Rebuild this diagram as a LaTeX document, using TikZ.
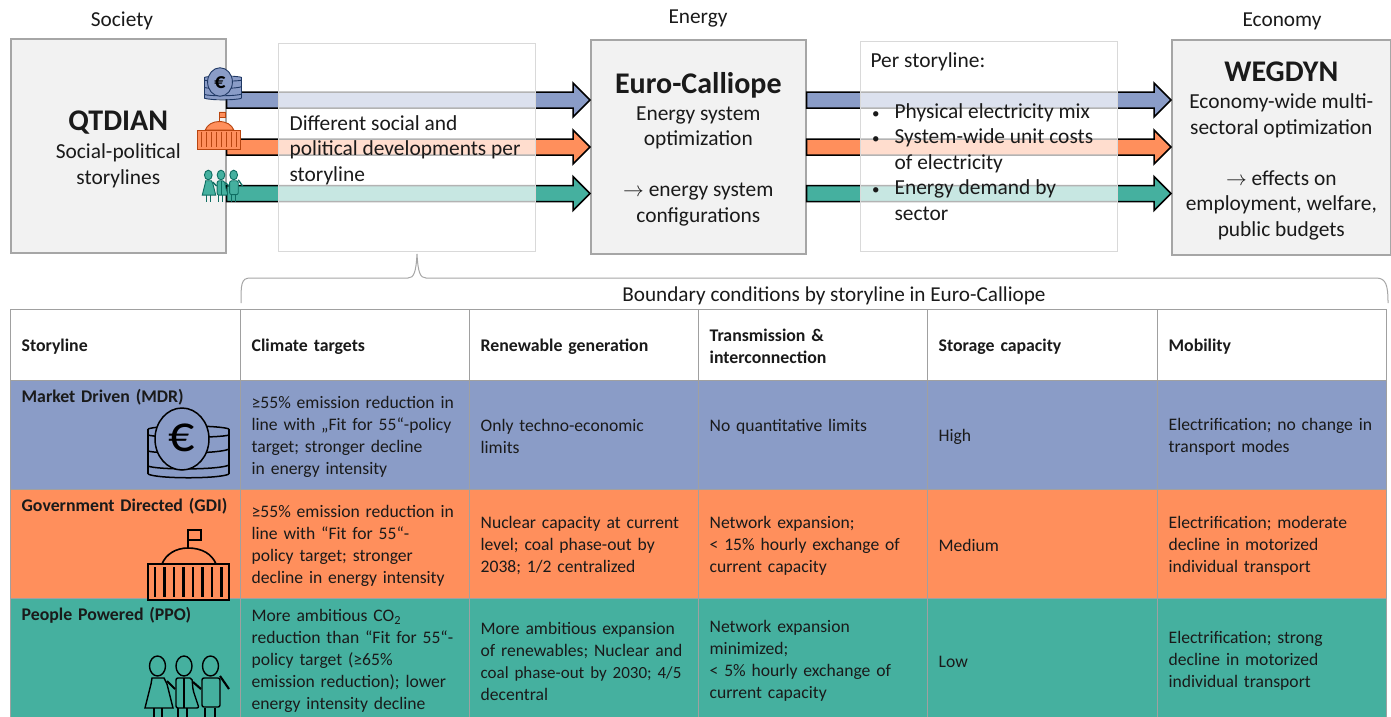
\documentclass[tikz,border=0pt]{standalone}
\usepackage{fontspec}
\setmainfont{Carlito}
\usetikzlibrary{calc}
\definecolor{cblue}{HTML}{8A9CC7}
\definecolor{corange}{HTML}{FF8F5C}
\definecolor{cgreen}{HTML}{45B09F}
\definecolor{boxfill}{HTML}{F2F2F2}
\definecolor{boxline}{HTML}{A6A6A6}
\definecolor{paleline}{HTML}{D9D9D9}
\definecolor{gridline}{HTML}{A0A0A0}
\definecolor{txt}{HTML}{1A1A1A}
\definecolor{navy}{HTML}{1F3864}
\definecolor{brick}{HTML}{B8450F}
\definecolor{teal}{HTML}{0E6E62}
\newcommand{\fs}[2]{\fontsize{#1pt}{#2pt}\selectfont}
\newcommand{\bul}{\leavevmode\llap{{\fs{15}{25.5}\textbullet}\hspace{15pt}}}
\newcommand{\fatarrow}[3]{\draw[arrowline,fill=#3] let \p1=(#1),\p2=(#2) in
 (\x1,\y1+8pt) -- (\x2-17pt,\y1+8pt) -- (\x2-17pt,\y1+17pt) -- (\x2,\y1) -- (\x2-17pt,\y1-17pt) -- (\x2-17pt,\y1-8pt) -- (\x1,\y1-8pt) -- cycle;}
\newcommand{\coinicon}[5]{\begin{scope}[shift={#1},scale=#2,line width=#5,draw=#4]
 \fill[#3] (-34,-10) rectangle (47,37);
 \draw (-34,-10) .. controls (-25,-14) and (38,-14) .. (47,-10);
 \draw (-34,-10) -- (-34,35) (47,-10) -- (47,35);
 \draw (-34,-4) .. controls (-25,-1) and (38,-1) .. (47,-4);
 \draw (-34,12) .. controls (-25,15) and (38,15) .. (47,10);
 \draw (-34,27) .. controls (-25,31) and (38,31) .. (47,26);
 \draw (-34,35) .. controls (-25,40) and (38,40) .. (47,35);
 \filldraw[fill=#3] (0,0) circle [x radius=27,y radius=31];
 \end{scope}}
\newcommand{\govicon}[5]{\begin{scope}[shift={#1},scale=#2,line width=#5,draw=#4]
 \filldraw[fill=#3] (0,0) -- (0,-34) -- (13,-34) -- (13,-24) -- (0,-24);
 \filldraw[fill=#3] (-26,0) .. controls (-22,-10) and (-12,-16) .. (0,-16) .. controls (14,-16) and (24,-10) .. (28,0) -- cycle;
 \filldraw[fill=#3] (-40,0) rectangle (41,36);
 \foreach \bx in {-33,-23.5,-14,-4.5,5,14.5,24,33.5} {\draw[line width=1.3*#5] (\bx,3) -- (\bx,33);}
 \end{scope}}
\newcommand{\peopleicon}[5]{\begin{scope}[shift={#1},scale=#2,line width=#5,draw=#4]
 \foreach \hx in {-26.5,0,26.5} {\filldraw[fill=#3] (\hx,0) circle [x radius=8,y radius=10];}
 \filldraw[fill=#3] (-32,12) -- (-20,12) -- (-17,18) -- (-11,42) -- (-39,42) -- (-33,18) -- cycle;
 \filldraw[fill=#3,rounded corners=2] (-8,12) -- (8,12) -- (9,24) -- (15,42) -- (-8,42) -- cycle;
 \draw (0,12) -- (0,42);
 \filldraw[fill=#3,rounded corners=2] (18,12) -- (36,12) -- (36,41) -- (18,41) -- cycle;
 \draw[line width=1.5*#5] (-17,15) -- (-9,23) (9,16) -- (17,23) (36,10) -- (45,23);
 \foreach \lx in {-30,-22,-6,3,21,31} {\draw (\lx,42) -- (\lx,56);}
 \end{scope}}
\tikzset{
 x=1pt,y=-1pt,
 arrowline/.style={draw=black,line width=1.5pt,line join=miter},
 modelbox/.style={draw=boxline,line width=1.6pt,fill=boxfill,anchor=north west,inner sep=0pt,text=txt},
 palebox/.style={draw=paleline,line width=1.2pt,fill=white,fill opacity=.7,text opacity=1,anchor=north west,inner sep=0pt,text=txt},
 heading/.style={font=\fs{21.3}{25},text=txt,inner sep=0pt},
 cell/.style={draw=gridline,line width=1.3pt,anchor=north west,inner xsep=11pt,inner ysep=0pt,
   text width=207pt,align=left,font=\fs{17.6}{22},text=txt,execute at begin node={\rule{0pt}{15.5pt}}},
 tophead/.style={cell,minimum height=71pt,font=\bfseries\fs{17.8}{22}},
 wid/.style={text width=208pt},
 rowa/.style={cell,fill=cblue,minimum height=109pt},
 rowb/.style={cell,fill=corange,minimum height=109pt},
 rowc/.style={cell,fill=cgreen,minimum height=122pt},
 brace/.style={draw=boxline,line width=1pt},
}
\begin{document}
\begin{tikzpicture}
\clip (0,0) rectangle (1391,716);
\useasboundingbox (0,0) rectangle (1391,716);
\fill[white] (0,0) rectangle (1391,716);
\def\titlefs{\bfseries\fs{30}{36}}
\node[heading] (lsoc) at (122,21) {Society};
\node[heading] (lene) at (698,18) {Energy};
\node[heading] (leco) at (1282,21) {Economy};
\node[modelbox] (qtdian) at (10,38) {\parbox[c][214pt][t]{215pt}{\centering\vspace*{72pt}\fs{21.4}{25.5}{\titlefs QTDIAN\par}\vspace*{3pt}Social-political\par storylines\par}};
\node[modelbox] (euro) at (590,39) {\parbox[c][214pt][t]{215pt}{\centering\vspace*{33pt}\fs{21.4}{25.5}{\titlefs Euro-Calliope\par}\vspace*{1pt}Energy system\par optimization\par\vspace*{25.5pt}$\rightarrow$ energy system\par configurations\par}};
\node[modelbox] (wegdyn) at (1171,39) {\parbox[c][215pt][t]{219pt}{\centering\vspace*{22pt}\fs{21.4}{25.5}{\titlefs WEGDYN\par}\vspace*{2pt}Economy-wide multi-\par sectoral optimization\par\vspace*{25.5pt}$\rightarrow$ effects on\par employment, welfare,\par public budgets\par}};
\coordinate (rowone) at (0,100);
\coordinate (rowtwo) at (0,147);
\coordinate (rowthree) at (0,193.5);
\fatarrow{qtdian.east |- rowone}{euro.west |- rowone}{cblue}
\fatarrow{qtdian.east |- rowtwo}{euro.west |- rowtwo}{corange}
\fatarrow{qtdian.east |- rowthree}{euro.west |- rowthree}{cgreen}
\fatarrow{euro.east |- rowone}{wegdyn.west |- rowone}{cblue}
\fatarrow{euro.east |- rowtwo}{wegdyn.west |- rowtwo}{corange}
\fatarrow{euro.east |- rowthree}{wegdyn.west |- rowthree}{cgreen}
\node[palebox] (dev) at (278,43) {\parbox[c][208pt][t]{257pt}{\fs{21.4}{25.5}\leftskip=11pt\relax\vspace*{72pt}Different social and\par political developments per\par storyline\par}};
\node[palebox] (per) at (860,41) {\parbox[c][210pt][t]{257pt}{\fs{21.4}{25.5}\vspace*{11pt}\leftskip=10pt\relax Per storyline:\par\vspace*{25.5pt}\leftskip=34pt\relax
\bul Physical electricity mix\par
\bul System-wide unit costs\par of electricity\par
\bul Energy demand by\par sector\par}};
\coinicon{(220,82)}{.46}{cblue}{navy}{.9pt}
\node[font=\bfseries\fs{22}{22},text=black,inner sep=0pt] (seuro) at (220,83) {€};
\govicon{(219,130)}{.53}{corange}{brick}{.9pt}
\peopleicon{(221,175)}{.48}{cgreen}{teal}{.9pt}
\coordinate (br) at (417,254);
\draw[brace] (241,303) .. controls (241,285) and (241,278) .. (250,278) -- (408,278)
 .. controls (414,278) and (416,272) .. (br) .. controls (418,272) and (420,278) .. (426,278)
 -- (1376,278) .. controls (1386,278) and (1388,285) .. (1388,303);
\node[heading,font=\fs{21.2}{24}] (bclabel) at (834,295.5) {Boundary conditions by storyline in Euro-Calliope};
\node[tophead,wid] (h1) at (10,309) {Storyline};
\node[tophead] (h2) at (240,309) {Climate targets};
\node[tophead] (h3) at (469,309) {Renewable generation};
\node[tophead] (h4) at (698,309) {Transmission \&\\interconnection};
\node[tophead,wid] (h5) at (927,309) {Storage capacity};
\node[tophead] (h6) at (1157,309) {Mobility};
\node[rowa,wid] (a1) at (10,380) {\parbox[c][109pt][t]{208pt}{\vspace*{9pt}\bfseries\fs{17.8}{22}Market Driven (MDR)}};
\node[rowa] (a2) at (240,380) {≥55\% emission reduction in\\line with „Fit for 55“-policy\\target; stronger decline\\in energy intensity};
\node[rowa] (a3) at (469,380) {Only techno-economic\\limits};
\node[rowa] (a4) at (698,380) {No quantitative limits\\~};
\node[rowa,wid] (a5) at (927,380) {High};
\node[rowa] (a6) at (1157,380) {Electrification; no change in\\transport modes};
\node[rowb,wid] (b1) at (10,489) {\parbox[c][109pt][t]{208pt}{\vspace*{9pt}\bfseries\fs{17.8}{22}Government Directed (GDI)}};
\node[rowb] (b2) at (240,489) {≥55\% emission reduction in\\line with “Fit for 55“-\\policy target; stronger\\decline in energy intensity};
\node[rowb] (b3) at (469,489) {Nuclear capacity at current\\level; coal phase-out by\\2038; 1/2 centralized};
\node[rowb] (b4) at (698,489) {Network expansion;\\< 15\% hourly exchange of\\current capacity};
\node[rowb,wid] (b5) at (927,489) {Medium};
\node[rowb] (b6) at (1157,489) {Electrification; moderate\\decline in motorized\\individual transport};
\node[rowc,wid] (c1) at (10,598) {\parbox[c][122pt][t]{208pt}{\vspace*{9pt}\bfseries\fs{17.8}{22}People Powered (PPO)}};
\node[rowc] (c2) at (240,598) {More ambitious CO\textsubscript{2}\\reduction than “Fit for 55“-\\policy target (≥65\%\\emission reduction); lower\\energy intensity decline};
\node[rowc] (c3) at (469,598) {More ambitious expansion\\of renewables; Nuclear and\\{\fs{17}{22}coal phase-out by 2030; 4/5}\\decentral};
\node[rowc] (c4) at (698,598) {Network expansion\\minimized;\\< 5\% hourly exchange of\\current capacity};
\node[rowc,wid] (c5) at (927,598) {Low};
\node[rowc] (c6) at (1157,598) {Electrification; strong\\decline in motorized\\individual transport};
\coinicon{(182,439)}{1}{cblue}{black}{1.5pt}
\node[font=\fs{52}{52},text=black,inner sep=0pt] (beuro) at (182,438) {€};
\govicon{(188,564)}{1}{corange}{black}{1.6pt}
\peopleicon{(184,666)}{1}{cgreen}{black}{1.4pt}
\end{tikzpicture}
\end{document}
